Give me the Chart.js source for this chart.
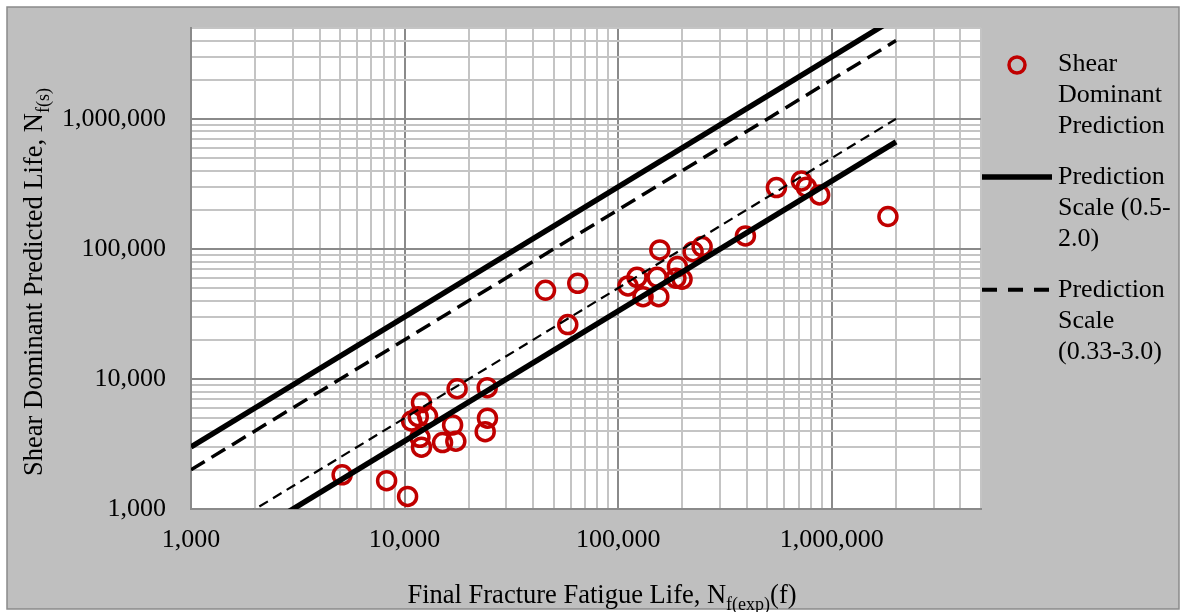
<!DOCTYPE html>
<html>
<head>
<meta charset="utf-8">
<script src="https://cdn.jsdelivr.net/npm/chart.js@4.4.1/dist/chart.umd.min.js"></script>
<style>
  html, body { margin: 0; padding: 0; background: #fff; }
  #wrap { width: 1185px; height: 612px; }
</style>
</head>
<body>
<div id="wrap"><canvas id="myChart"></canvas></div>
<script>
// fatigue life: experimental vs shear dominant prediction
let expLife = [5100, 8240, 10330, 12000, 10790, 11590, 12810, 11800, 12000, 15060,
  16780, 17380, 17620, 24370, 24440, 23850, 45700, 64700, 58100, 111200,
  122500, 130800, 152200, 156700, 155000, 189500, 186400, 199200, 224400, 247300,
  394400, 550800, 721000, 761000, 878000, 1833000];
let predLife = [1830, 1650, 1250, 6580, 4750, 5130, 5190, 3560, 2990, 3240,
  4430, 3320, 8410, 8570, 4990, 3930, 48100, 54400, 26200, 51900,
  60500, 42900, 60500, 98200, 42900, 73100, 59600, 58500, 95300, 104200,
  126000, 296500, 333600, 298300, 260000, 177500];

// scale band lines, start and end point
let bandX = [1000, 2000000];
let bandUpper3 = [3000, 6000000];
let bandUpper2 = [2000, 4000000];
let bandLower05 = [500, 1000000];
let bandLower033 = [333, 666667];

let tickValues = [1000, 10000, 100000, 1000000];
let tickLabels = ["1,000", "10,000", "100,000", "1,000,000"];

let legendLabels = [
  ["Shear", "Dominant", "Prediction"],
  ["Prediction", "Scale (0.5-", "2.0)"],
  ["Prediction", "Scale", "(0.33-3.0)"]
];

const FONT = '"Liberation Serif", "Times New Roman", serif';
const RED = "#c00000";

function toPoints(xs, ys) {
  return xs.map((x, i) => ({ x: x, y: ys[i] }));
}

// 1..9 x each decade, up to the 5,000,000 edge
function gridValues() {
  let vals = [];
  for (let e = 1000; e <= 1000000; e *= 10) {
    for (let m = 1; m <= 9; m++) {
      if (e * m <= 5000000) vals.push(e * m);
    }
  }
  return vals;
}

function tickText(value) {
  let i = tickValues.indexOf(value);
  return i >= 0 ? tickLabels[i] : "";
}

function gridColor(ctx) {
  if (!ctx.tick) return "#c4c4c4";
  return tickValues.includes(ctx.tick.value) ? "#8a8a8a" : "#c4c4c4";
}

// text with subscripts, parts = [[text, isSub], ...]
function drawParts(ctx, parts, x, y) {
  for (const p of parts) {
    ctx.font = (p[1] ? "18px " : "26.5px ") + FONT;
    ctx.fillText(p[0], x, p[1] ? y + 7 : y);
    x += ctx.measureText(p[0]).width;
  }
}

function partsWidth(ctx, parts) {
  let w = 0;
  for (const p of parts) {
    ctx.font = (p[1] ? "18px " : "26.5px ") + FONT;
    w += ctx.measureText(p[0]).width;
  }
  return w;
}

const backgroundPlugin = {
  id: "background",
  beforeDraw(chart) {
    const ctx = chart.ctx;
    const a = chart.chartArea;
    ctx.save();
    ctx.fillStyle = "#ffffff";
    ctx.fillRect(0, 0, chart.width, chart.height);
    ctx.fillStyle = "#bfbfbf";
    ctx.fillRect(7, 7, 1172, 602);
    ctx.strokeStyle = "#8a8a8a";
    ctx.lineWidth = 1.5;
    ctx.strokeRect(7, 7, 1172, 602);
    ctx.fillStyle = "#ffffff";
    ctx.fillRect(a.left, a.top, a.right - a.left, a.bottom - a.top);
    ctx.restore();
  }
};

const titlesPlugin = {
  id: "titles",
  afterDraw(chart) {
    const ctx = chart.ctx;
    ctx.save();
    ctx.fillStyle = "#000";
    ctx.textBaseline = "alphabetic";
    ctx.textAlign = "left";

    let xParts = [["Final Fracture Fatigue Life, N", false], ["f(exp)", true], ["(f)", false]];
    let w = partsWidth(ctx, xParts);
    drawParts(ctx, xParts, 602 - w / 2, 603);

    let yParts = [["Shear Dominant Predicted Life, N", false], ["f(s)", true]];
    w = partsWidth(ctx, yParts);
    ctx.translate(42, 282);
    ctx.rotate(-Math.PI / 2);
    drawParts(ctx, yParts, -w / 2, 0);
    ctx.restore();
  }
};

const legendPlugin = {
  id: "sideLegend",
  afterDraw(chart) {
    const ctx = chart.ctx;
    const items = [
      { ds: 0, width: 3.5, dash: [] },
      { ds: 1, width: 5.5, dash: [] },
      { ds: 3, width: 4, dash: [15, 11] }
    ];
    const lineH = 31.3;
    let y = 64;
    ctx.save();
    items.forEach((item, k) => {
      const ds = chart.data.datasets[item.ds];
      ctx.strokeStyle = ds.borderColor;
      ctx.lineWidth = item.width;
      ctx.setLineDash(item.dash);
      ctx.beginPath();
      if (ds.showLine) {
        ctx.moveTo(982, y);
        ctx.lineTo(1052, y);
      } else {
        ctx.arc(1017, y + 1, 8, 0, Math.PI * 2);
      }
      ctx.stroke();
      ctx.setLineDash([]);
      ctx.fillStyle = "#000";
      ctx.font = "26px " + FONT;
      ctx.textBaseline = "middle";
      ctx.textAlign = "left";
      legendLabels[k].forEach((t, i) => ctx.fillText(t, 1058, y + i * lineH));
      y += 3 * lineH + 19;
    });
    ctx.restore();
  }
};

function lineSet(label, ys, width, dash) {
  return {
    label: label,
    data: toPoints(bandX, ys),
    showLine: true,
    borderColor: "#000",
    borderWidth: width,
    borderDash: dash,
    pointRadius: 0,
    fill: false,
    order: 1
  };
}

const config = {
  type: "scatter",
  data: {
    datasets: [
      {
        label: "Shear Dominant Prediction",
        data: toPoints(expLife, predLife),
        showLine: false,
        borderColor: RED,
        backgroundColor: "rgba(0,0,0,0)",
        borderWidth: 3.5,
        pointRadius: 9,
        pointHoverRadius: 9,
        order: 2
      },
      lineSet("Prediction Scale (0.5-2.0)", bandUpper3, 5.5, []),
      lineSet("", bandLower033, 5.5, []),
      lineSet("Prediction Scale (0.33-3.0)", bandUpper2, 3.5, [16, 8]),
      lineSet("", bandLower05, 2.2, [10, 6])
    ]
  },
  options: {
    responsive: true,
    maintainAspectRatio: false,
    animation: false,
    layout: { padding: { top: 28, right: 204, left: 0, bottom: 0 } },
    plugins: {
      legend: { display: false },
      tooltip: { enabled: false }
    },
    scales: {
      x: {
        type: "logarithmic",
        min: 1000,
        max: 5000000,
        afterBuildTicks: (s) => { s.ticks = gridValues().map((v) => ({ value: v })); },
        afterFit: (s) => {
          s.height = 103;
          s.paddingLeft = 0;
          s.paddingRight = 0;
        },
        grid: { color: gridColor, lineWidth: 2, drawTicks: false },
        border: { color: "#8a8a8a", width: 2 },
        ticks: {
          autoSkip: false,
          maxRotation: 0,
          padding: 16,
          color: "#000",
          font: { family: FONT, size: 26 },
          callback: tickText
        }
      },
      y: {
        type: "logarithmic",
        min: 1000,
        max: 5000000,
        afterBuildTicks: (s) => { s.ticks = gridValues().map((v) => ({ value: v })); },
        afterFit: (s) => {
          s.width = 191;
          s.paddingTop = 0;
          s.paddingBottom = 0;
        },
        grid: { color: gridColor, lineWidth: 2, drawTicks: false },
        border: { color: "#8a8a8a", width: 2 },
        ticks: {
          autoSkip: false,
          padding: 25,
          color: "#000",
          font: { family: FONT, size: 26 },
          callback: tickText
        }
      }
    }
  },
  plugins: [backgroundPlugin, titlesPlugin, legendPlugin]
};

let grafico = new Chart(document.querySelector("#myChart"), config);
</script>
</body>
</html>
